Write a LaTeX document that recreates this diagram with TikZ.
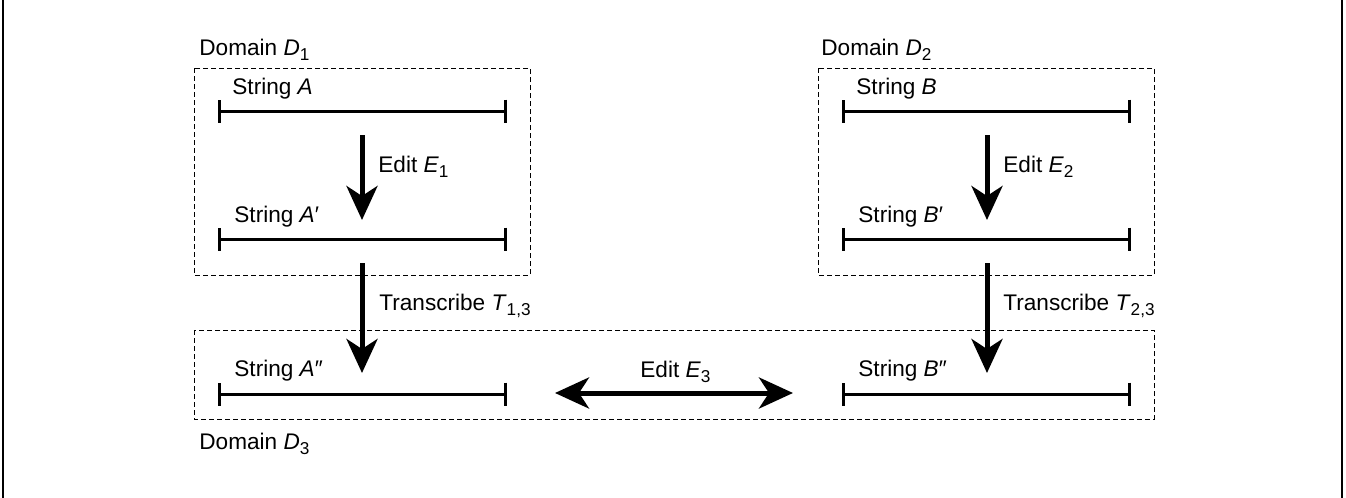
\documentclass[tikz,border=0pt]{standalone}
\usepackage{fontspec}
\setmainfont{Liberation Sans}
\usetikzlibrary{arrows.meta,positioning}

\newcommand{\lowix}[1]{\raisebox{-0.45ex}{\fontsize{8.6}{9}\selectfont #1}}

\begin{document}
\begin{tikzpicture}[x=0.5pt,y=-0.5pt,font=\fontsize{11.3}{13.5}\selectfont,
    every node/.style={inner sep=0,anchor=base west},
    strline/.style={line width=1.5pt,{Bar[width=11.5pt]}-{Bar[width=11.5pt]}},
    bigarrow/.style={line width=2.5pt,-{Stealth[length=17pt,width=15.5pt,inset=5pt]}},
    twoarrow/.style={line width=2.5pt,{Stealth[length=17pt,width=15.5pt,inset=5pt]}-{Stealth[length=17pt,width=15.5pt,inset=5pt]}},
    domainbox/.style={draw,line width=0.5pt,dash pattern=on 2.5pt off 1.5pt}]

\useasboundingbox (0,0) rectangle (1346,498);
\draw[line width=1pt] (3,0) -- (3,498) (1342,0) -- (1342,498);

% domains
\draw[domainbox] (194,68) rectangle (530,275);
\draw[domainbox] (818,68) rectangle (1154,275);
\draw[domainbox] (194,330) rectangle (1154,419);
\node (d1) at (199,55) {Domain \textit{D}\lowix{1}};
\node (d2) at (821,55) {Domain \textit{D}\lowix{2}};
\node (d3) at (199,449) {Domain \textit{D}\lowix{3}};

% strings
\coordinate (a0) at (218,111); \coordinate (a1) at (507,111);
\coordinate (a2) at (218,239); \coordinate (a3) at (507,239);
\coordinate (a4) at (218,394); \coordinate (a5) at (507,394);
\coordinate (b0) at (842,111); \coordinate (b1) at (1131,111);
\coordinate (b2) at (842,239); \coordinate (b3) at (1131,239);
\coordinate (b4) at (842,394); \coordinate (b5) at (1131,394);
\draw[strline] (a0) -- (a1);
\draw[strline] (a2) -- (a3);
\draw[strline] (a4) -- (a5);
\draw[strline] (b0) -- (b1);
\draw[strline] (b2) -- (b3);
\draw[strline] (b4) -- (b5);
\node (sa) at (232,94) {String \textit{A}};
\node (sa1) at (234,222) {String \textit{A}′};
\node (sa2) at (234,376) {String \textit{A}″};
\node (sb) at (856,94) {String \textit{B}};
\node (sb1) at (858,222) {String \textit{B}′};
\node (sb2) at (858,376) {String \textit{B}″};

% edits and transcriptions
\coordinate (e1s) at (362,135); \coordinate (e1t) at (362,220);
\coordinate (t1s) at (362,263); \coordinate (t1t) at (362,373);
\coordinate (e2s) at (987,135); \coordinate (e2t) at (987,220);
\coordinate (t2s) at (987,263); \coordinate (t2t) at (987,373);
\coordinate (e3s) at (555,393); \coordinate (e3t) at (793,393);
\draw[bigarrow] (e1s) -- (e1t);
\draw[bigarrow] (t1s) -- (t1t);
\draw[bigarrow] (e2s) -- (e2t);
\draw[bigarrow] (t2s) -- (t2t);
\draw[twoarrow] (e3s) -- (e3t);
\node (le1) at (378,172) {Edit \textit{E}\lowix{1}};
\node (le2) at (1003,172) {Edit \textit{E}\lowix{2}};
\node (lt1) at (379,310) {Transcribe \textit{T}\lowix{1,3}};
\node (lt2) at (1003,310) {Transcribe \textit{T}\lowix{2,3}};
\node (le3) at (640,377) {Edit \textit{E}\lowix{3}};

\end{tikzpicture}
\end{document}
